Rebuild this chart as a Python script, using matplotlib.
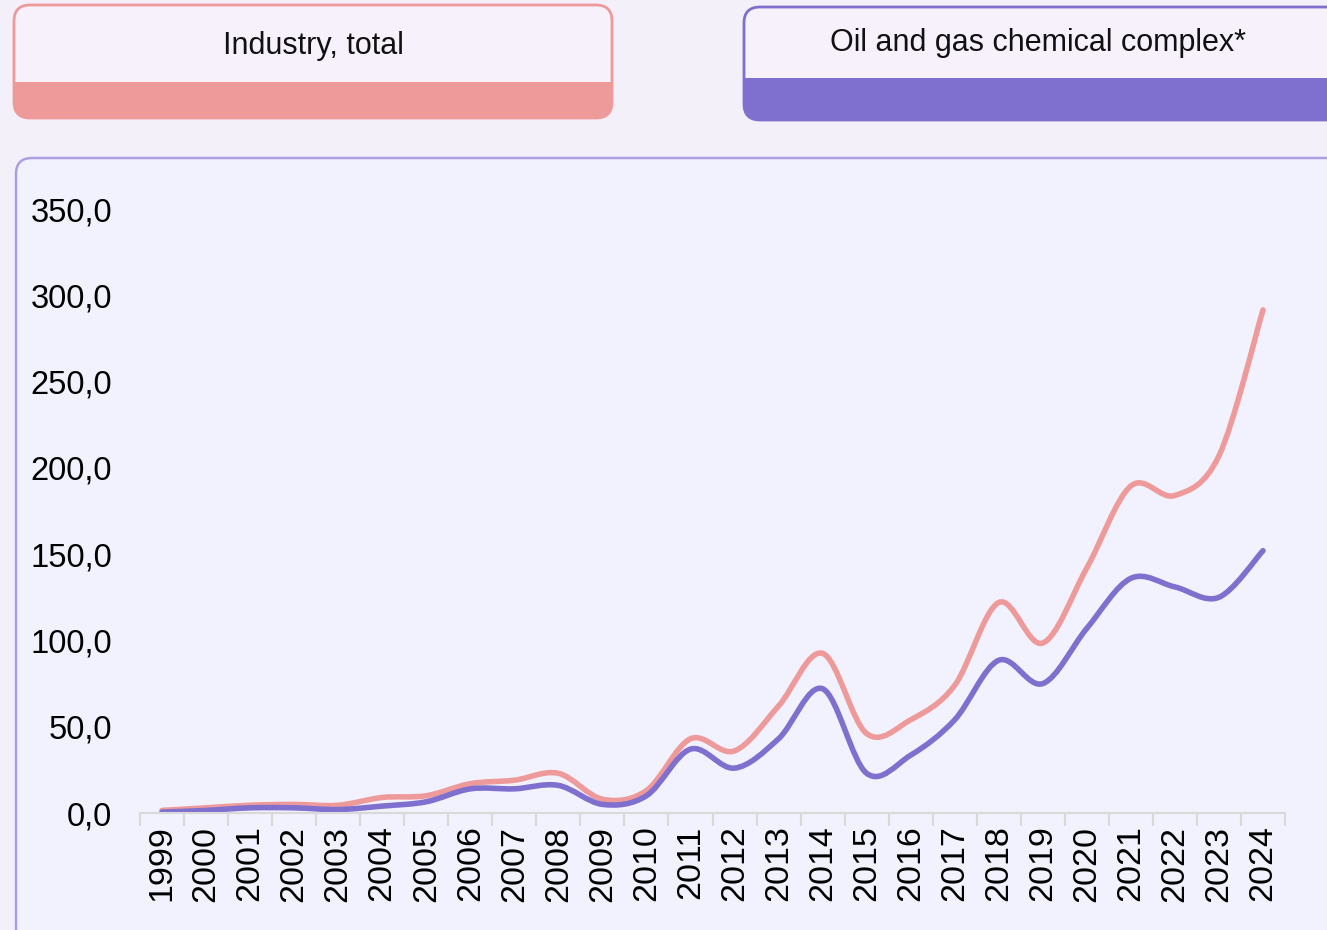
import matplotlib
matplotlib.use('Agg')
import matplotlib.pyplot as plt
import numpy as np
from matplotlib.patches import FancyBboxPatch, Rectangle, PathPatch
from matplotlib.path import Path


years = [str(y) for y in range(1999, 2025)]

industry_total = [1.5, 3.0, 4.5, 5.0, 4.5, 9.0, 10.0, 17.0, 19.0, 23.0, 8.0, 13.0, 43.0,
                  36.0, 62.0, 92.5, 46.0, 54.0, 74.0, 122.0, 98.5, 142.0, 189.5, 184.0,
                  207.0, 291.5]
oil_gas_chem = [0.5, 1.5, 3.0, 3.0, 2.0, 4.0, 6.5, 14.0, 14.0, 16.0, 5.0, 10.0, 37.0,
                26.0, 43.0, 72.0, 23.0, 33.5, 54.0, 88.5, 75.0, 107.0, 136.0, 131.0,
                125.0, 152.0]

y_ticks = [0, 50, 100, 150, 200, 250, 300, 350]

pink = '#EF9A9A'
purple = '#7F70CF'
fig_bg = '#F4F0FA'
panel_bg = '#F2F2FE'
box_bg = '#F7F1FC'
font = ['Liberation Sans', 'DejaVu Sans']


def smooth_path(xs, ys):
    # Excel-style smoothed line: Catmull-Rom segments as cubic beziers
    pts = np.column_stack([xs, ys]).astype(float)
    verts = [pts[0]]
    codes = [Path.MOVETO]
    n = len(pts)
    for i in range(n - 1):
        p0 = pts[i - 1] if i > 0 else pts[i]
        p1 = pts[i]
        p2 = pts[i + 1]
        p3 = pts[i + 2] if i + 2 < n else pts[i + 1]
        c1 = p1 + (p2 - p0) / 6.0
        c2 = p2 - (p3 - p1) / 6.0
        verts += [c1, c2, p2]
        codes += [Path.CURVE4] * 3
    return Path(verts, codes)


fig = plt.figure(figsize=(13.27, 9.30), dpi=100)
fig.patch.set_facecolor(fig_bg)

# background layer in pixel coordinates
bg = fig.add_axes([0, 0, 1, 1])
bg.set_xlim(0, 1327)
bg.set_ylim(930, 0)
bg.axis('off')

# chart panel
bg.add_patch(FancyBboxPatch((16, 158), 1340, 800, boxstyle='round,pad=0,rounding_size=16',
                            facecolor=panel_bg, edgecolor='#AB9FE2', linewidth=1.8))


def legend_box(x0, x1, y0, y1, ys, color, label, tx, ty):
    r = 16
    fill = FancyBboxPatch((x0, y0), x1 - x0, y1 - y0,
                          boxstyle='round,pad=0,rounding_size=%d' % r,
                          facecolor=box_bg, edgecolor='none')
    bg.add_patch(fill)
    strip = Rectangle((x0 - 2, ys), x1 - x0 + 4, y1 - ys + 2,
                      facecolor=color, edgecolor='none')
    bg.add_patch(strip)
    strip.set_clip_path(fill)
    bg.add_patch(FancyBboxPatch((x0, y0), x1 - x0, y1 - y0,
                                boxstyle='round,pad=0,rounding_size=%d' % r,
                                facecolor='none', edgecolor=color, linewidth=2))
    bg.text(tx, ty, label, ha='center', va='center', fontsize=22,
            color='#111111', family=font)


legend_box(14, 612, 5, 118, 82, pink, 'Industry, total', 313, 46)
legend_box(744, 1360, 7, 120, 78, purple, 'Oil and gas chemical complex*', 1038, 43)

# chart
ax = fig.add_axes([140 / 1327, 1 - 813 / 930, 1145 / 1327, 604 / 930])
ax.patch.set_alpha(0)
x = np.arange(len(years))

ax.add_patch(PathPatch(smooth_path(x, industry_total), facecolor='none', edgecolor=pink,
                       linewidth=4.0, capstyle='round', joinstyle='round'))
ax.add_patch(PathPatch(smooth_path(x, oil_gas_chem), facecolor='none', edgecolor=purple,
                       linewidth=4.0, capstyle='round', joinstyle='round'))

ax.set_xlim(-0.5, len(years) - 0.5)
ax.set_ylim(0, 350)
for s in ['top', 'right', 'left']:
    ax.spines[s].set_visible(False)
ax.spines['bottom'].set_color('#D9D9D9')
ax.spines['bottom'].set_linewidth(1.5)

ax.set_xticks(x)
ax.set_xticklabels(years, rotation=90, fontsize=24.5, family=font)
ax.set_xticks(np.arange(-0.5, len(years)), minor=True)
ax.tick_params(axis='x', which='major', length=0, pad=9)
ax.tick_params(axis='x', which='minor', length=9, width=1.5, color='#D9D9D9')

ax.set_yticks(y_ticks)
ax.set_yticklabels(['%d,0' % v for v in y_ticks], fontsize=23.5, family=font)
ax.tick_params(axis='y', length=0, pad=20)

fig.savefig('out.png', dpi=100, facecolor=fig.get_facecolor())
